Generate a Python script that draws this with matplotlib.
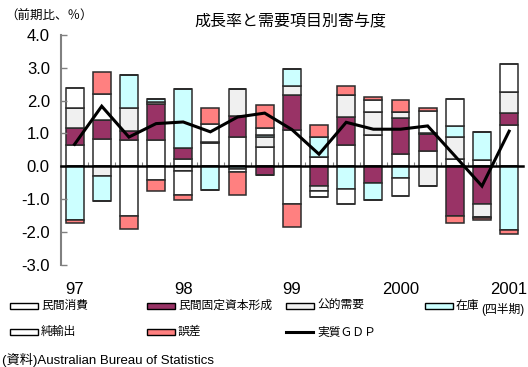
import numpy as np
import matplotlib
matplotlib.use("Agg")
import matplotlib.pyplot as plt
from matplotlib.patches import Rectangle
from matplotlib.lines import Line2D
from matplotlib.transforms import blended_transform_factory

plt.rcParams['font.family'] = ['Liberation Sans', 'Noto Sans CJK JP']

# Quarterly contributions to real GDP growth (q/q, %), 1997Q1 - 2001Q1
quarters = ['97Q1', '97Q2', '97Q3', '97Q4', '98Q1', '98Q2', '98Q3', '98Q4',
            '99Q1', '99Q2', '99Q3', '99Q4', '00Q1', '00Q2', '00Q3', '00Q4', '01Q1']
year_labels = ['97', '98', '99', '2000', '2001']

consumption = [0.64, 0.82, 0.81, 0.79, 0.23, 0.72, 0.89, 0.58, 1.10,
               0.28, 0.64, 0.95, 0.37, 0.48, 0.22, 0.18, 1.27]
fixed_investment = [0.53, 0.60, 0.27, 1.11, 0.33, 0.03, 0.64, -0.25, 1.08,
                    -0.61, 0.86, -0.50, 1.11, 0.50, -1.52, -1.14, 0.34]
public_demand = [0.61, -0.29, 0.68, 0.07, -0.15, 0.00, 0.82, 0.30, 0.26,
                 -0.14, 0.68, 0.71, 0.18, -0.60, 0.66, -0.40, 0.64]
inventories = [-1.62, -0.77, 1.03, 0.08, 1.78, -0.73, -0.08, 0.07, 0.52,
               0.61, -0.68, -0.52, -0.36, 0.04, 0.36, 0.85, -1.95]
net_exports = [0.61, 0.78, -1.51, -0.41, -0.73, 0.55, -0.08, 0.22, -1.16,
               -0.19, -0.48, 0.37, -0.54, 0.66, 0.81, -0.04, 0.85]
discrepancy = [-0.10, 0.66, -0.41, -0.35, -0.13, 0.46, -0.72, 0.69, -0.69,
               0.36, 0.27, 0.08, 0.35, 0.10, -0.21, -0.06, -0.10]
real_gdp = [0.67, 1.83, 0.89, 1.30, 1.35, 1.05, 1.50, 1.62, 1.12,
            0.37, 1.34, 1.13, 1.13, 1.23, 0.32, -0.60, 1.07]

series_names = ['民間消費', '民間固定資本形成', '公的需要', '在庫', '純輸出', '誤差']
series_values = [consumption, fixed_investment, public_demand, inventories,
                 net_exports, discrepancy]
series_colors = ['#FFFFFF', '#993366', '#F0F0F0', '#CCFFFF', '#FFFFFF', '#FF8080']
edge = '#2b2b2b'

fig = plt.figure(figsize=(5.28, 3.67), dpi=100)
ax = fig.add_axes([0.1155, 0.278, 0.8745, 0.627])

x = np.arange(len(quarters))
pos_base = np.zeros(len(quarters))
neg_base = np.zeros(len(quarters))
for name, vals, col in zip(series_names, series_values, series_colors):
    v = np.asarray(vals, dtype=float)
    pos = np.where(v > 0, v, 0.0)
    neg = np.where(v < 0, v, 0.0)
    ax.bar(x, pos, bottom=pos_base, width=0.66, color=col,
           edgecolor=edge, linewidth=1.1, zorder=1)
    ax.bar(x, neg, bottom=neg_base, width=0.66, color=col,
           edgecolor=edge, linewidth=1.1, zorder=1)
    pos_base += pos
    neg_base += neg

ax.plot(x, real_gdp, color='black', linewidth=2.2, zorder=4,
        solid_joinstyle='miter')

ax.set_xlim(-0.5, len(quarters) - 0.5)
ax.set_ylim(-3, 4)
ax.set_yticks(np.arange(-3, 4.01, 1.0))
ax.set_yticklabels([f'{t:.1f}' for t in np.arange(-3, 4.01, 1.0)], fontsize=12)
ax.tick_params(axis='y', direction='in', length=4, width=1, color='#808080', pad=8)

for s in ['top', 'right']:
    ax.spines[s].set_visible(False)
ax.spines['left'].set_color('#808080')
ax.spines['left'].set_linewidth(1.5)
ax.spines['bottom'].set_position(('data', 0))
ax.spines['bottom'].set_color('black')
ax.spines['bottom'].set_linewidth(1.8)
ax.spines['bottom'].set_zorder(3)
ax.set_xticks(np.arange(0.5, len(quarters) - 1, 1.0))
ax.set_xticklabels([])
ax.tick_params(axis='x', direction='in', length=3, width=0.8, color='#808080')

trans = blended_transform_factory(ax.transData, ax.transAxes)
for i, lab in enumerate(year_labels):
    ax.text(x[i * 4], -0.105, lab, transform=trans, ha='center', va='center',
            fontsize=12)

fig.text(290 / 528, 1 - 22 / 367, '成長率と需要項目別寄与度', ha='center',
         va='center', fontsize=11.5)
fig.text(5 / 528, 1 - 16 / 367, '（前期比、％）', ha='left', va='center',
         fontsize=9, family=['Noto Sans CJK JP'])

# legend laid out in a fixed grid
W, H = 528.0, 367.0
col_x = [10, 147, 286, 425]
row_y = [306, 332]
entries = [
    (0, 0, 'patch', series_colors[0], series_names[0]),
    (1, 0, 'patch', series_colors[1], series_names[1]),
    (2, 0, 'patch', series_colors[2], series_names[2]),
    (3, 0, 'patch', series_colors[3], series_names[3]),
    (0, 1, 'patch', series_colors[4], series_names[4]),
    (1, 1, 'patch', series_colors[5], series_names[5]),
    (2, 1, 'line', 'black', '実質ＧＤＰ'),
]
for c, r, kind, col, label in entries:
    x0 = col_x[c]
    yc = row_y[r]
    if kind == 'patch':
        fig.add_artist(Rectangle((x0 / W, 1 - (yc + 3) / H), 28 / W, 6 / H,
                                 facecolor=col, edgecolor='black',
                                 linewidth=1.0, transform=fig.transFigure))
    else:
        fig.add_artist(Line2D([x0 / W, (x0 + 27) / W], [1 - yc / H, 1 - yc / H],
                              color=col, linewidth=2.2,
                              transform=fig.transFigure))
    fig.text((x0 + 31) / W, 1 - yc / H, label, ha='left', va='center',
             fontsize=8.5)

fig.text(524 / W, 1 - 310 / H, '(四半期)', ha='right', va='center', fontsize=8.5)
fig.text(2 / W, 1 - 360 / H, '(資料)Australian Bureau of Statistics',
         ha='left', va='center', fontsize=9.5)

fig.savefig('out.png', dpi=100)
